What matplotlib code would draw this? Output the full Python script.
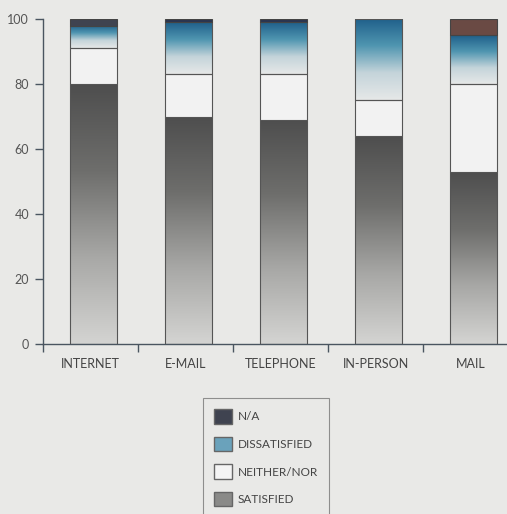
import numpy as np
import matplotlib
matplotlib.use("Agg")
import matplotlib.pyplot as plt
from matplotlib.colors import LinearSegmentedColormap
from matplotlib.patches import Patch

categories = ["INTERNET", "E-MAIL", "TELEPHONE", "IN-PERSON", "MAIL"]
satisfied = [80, 70, 69, 64, 53]
neither = [11, 13, 14, 11, 27]
dissatisfied = [7, 16, 16, 25, 15]
na = [2, 1, 1, 0, 5]
series_names = ["N/A", "DISSATISFIED", "NEITHER/NOR", "SATISFIED"]
yticks = [0, 20, 40, 60, 80, 100]

BG = "#e9e9e7"
plt.rcParams['font.family'] = ['Lato', 'DejaVu Sans']

fig = plt.figure(figsize=(5.07, 5.14), dpi=100, facecolor=BG)
ax = fig.add_axes([43/507, 170/514, 475/507, 325/514], facecolor=BG)

x = np.arange(len(categories)) + 0.03
w = 0.5

sat_cmap = LinearSegmentedColormap.from_list("sat", ["#d4d4d2", "#a8a8a6", "#6e6e6c", "#4e4e4e"])
dis_cmap = LinearSegmentedColormap.from_list("dis", ["#e6e8e8", "#c4d4da", "#4f95b0", "#1f5f8a"])
na_colors = ["#3f4350", "#2a3550", "#2a3550", "#2a3550", "#6a4a44"]

def grad_bar(xc, bottom, height, cmap, edge="#555555"):
    if height <= 0:
        return
    bars = ax.bar(xc, height, w, bottom=bottom, color="none", edgecolor=edge, linewidth=0.8, zorder=3)
    rect = bars[0]
    g = np.linspace(0, 1, 256).reshape(-1, 1)
    im = ax.imshow(g, cmap=cmap, aspect="auto", origin="lower",
                   extent=(xc - w/2, xc + w/2, bottom, bottom + height), zorder=2)
    im.set_clip_path(rect)

for i, xc in enumerate(x):
    grad_bar(xc, 0, satisfied[i], sat_cmap)
    b = satisfied[i]
    ax.bar(xc, neither[i], w, bottom=b, color="#f2f2f2", edgecolor="#555555", linewidth=0.8, zorder=3)
    b += neither[i]
    grad_bar(xc, b, dissatisfied[i], dis_cmap)
    b += dissatisfied[i]
    if na[i] > 0:
        ax.bar(xc, na[i], w, bottom=b, color=na_colors[i], edgecolor="#444444", linewidth=0.8, zorder=3)

ax.set_xlim(-0.5, 4.5)
ax.set_ylim(0, 100)
for s in ["top", "right"]:
    ax.spines[s].set_visible(False)
for s in ["left", "bottom"]:
    ax.spines[s].set_color("#4a5560")
    ax.spines[s].set_linewidth(1.0)

ax.set_yticks(yticks)
ax.set_yticklabels([str(v) for v in yticks], fontsize=9, color="#555555")
ax.tick_params(axis="y", length=6, width=1, color="#4a5560", pad=4)
ax.set_xticks(np.arange(len(categories)) - 0.5)
ax.set_xticklabels([])
ax.tick_params(axis="x", which="major", length=6, width=1, color="#4a5560")
ax.set_xticks(np.arange(len(categories)), minor=True)
ax.set_xticklabels(categories, minor=True, fontsize=9, color="#444444")
ax.tick_params(axis="x", which="minor", length=0, pad=10)

handles = [Patch(facecolor="#3f4350", edgecolor="#666666"),
           Patch(facecolor="#6aa2bb", edgecolor="#666666"),
           Patch(facecolor="#f4f4f4", edgecolor="#666666"),
           Patch(facecolor="#8a8a88", edgecolor="#666666")]
leg = fig.legend(handles, series_names, loc="upper center", bbox_to_anchor=(266/507, 1 - 398/514),
                 frameon=True, fancybox=False, edgecolor="#777777", facecolor=BG,
                 fontsize=8.5, handlelength=1.5, handleheight=1.5, labelspacing=1.12,
                 borderpad=0.95, handletextpad=0.45, borderaxespad=0)
leg.get_frame().set_linewidth(0.8)
for t in leg.get_texts():
    t.set_color("#444444")

fig.savefig("out.png", dpi=100, facecolor=BG)
